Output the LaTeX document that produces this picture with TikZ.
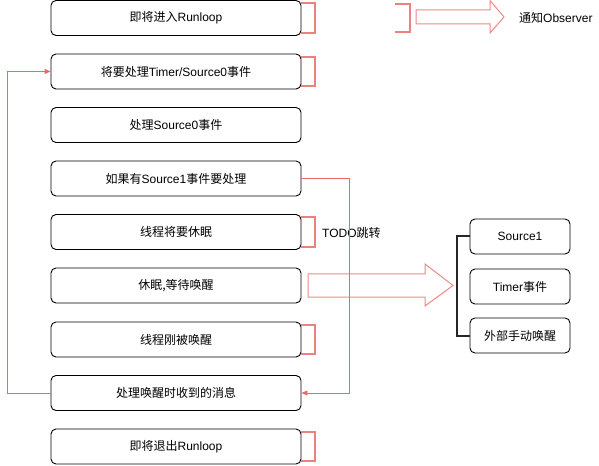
\documentclass[tikz,border=0pt]{standalone}
\usepackage{fontspec}
\setmainfont{Liberation Sans}
\newfontfamily\cjk{Noto Sans CJK SC}
\usetikzlibrary{arrows.meta}
\definecolor{redline}{HTML}{EA6B66}
\begin{document}
\begin{tikzpicture}[x=1bp,y=-1bp,
  box/.style={draw=black,line width=0.9bp,rounded corners=5bp,minimum width=250bp,minimum height=35bp,inner sep=0pt,font=\fontsize{12bp}{14bp}\selectfont},
  sbox/.style={box,minimum width=100bp},
  brk/.style={draw=redline,line width=2bp,draw opacity=0.85},
  hollow/.style={draw=redline,line width=1bp,draw opacity=0.8,line join=miter},
  conn/.style={draw=redline,line width=1bp},
  lbl/.style={font=\fontsize{12bp}{14bp}\selectfont,inner sep=0pt}]
\useasboundingbox (0,0) rectangle (599,466);
% main boxes
\node[box] (b1) at (176,18) {{\cjk 即将进入}Runloop};
\node[box] (b2) at (176,71.5) {{\cjk 将要处理}Timer/Source0{\cjk 事件}};
\node[box] (b3) at (176,125) {{\cjk 处理}Source0{\cjk 事件}};
\node[box] (b4) at (176,178.5) {{\cjk 如果有}Source1{\cjk 事件要处理}};
\node[box] (b5) at (176,232) {{\cjk 线程将要休眠}};
\node[box] (b6) at (176,285.5) {{\cjk 休眠}{\cjk ,等待唤醒}};
\node[box] (b7) at (176,339.5) {{\cjk 线程刚被唤醒}};
\node[box] (b8) at (176,393) {{\cjk 处理唤醒时收到的消息}};
\node[box] (b9) at (176,446.5) {{\cjk 即将退出}Runloop};
% right boxes
\node[sbox] (r1) at (520,236.5) {Source1};
\node[sbox] (r2) at (520,286.5) {Timer{\cjk 事件}};
\node[sbox] (r3) at (520,335.5) {{\cjk 外部手动唤醒}};
% labels
\node[lbl,anchor=west] (obs) at (519,18) {{\cjk 通知}Observer};
\node[lbl,anchor=west] (todo) at (322,233) {TODO{\cjk 跳转}};
% red brackets
\foreach \b in {b1,b2,b5,b7,b9}{
  \draw[brk] ([yshift=-3bp]\b.north east) -- ++(14,0) |- ([yshift=3bp]\b.south east);
}
\coordinate (k1) at (395,4);
\coordinate (k2) at (395,32);
\draw[brk] (k1) -- ++(15,0) |- (k2);
% black bracket for right boxes
\draw[draw=black!85,line width=2bp] (r1.west) -- ++(-13,0) |- (r3.west);
% hollow arrows
\draw[hollow] (416,10) -- (490,10) -- (490,0.5) -- (504,17) -- (490,33) -- (490,24) -- (416,24) -- cycle;
\draw[hollow] (308,274) -- (425,274) -- (425,264) -- (453,285.5) -- (425,306) -- (425,297) -- (308,297) -- cycle;
% connectors
\coordinate (jr) at (349,0);
\draw[conn,-{Triangle[length=6bp,width=5bp]}] (b4.east) -- (b4.east -| jr) |- (b8.east);
\coordinate (jl) at (7.5,0);
\draw[conn,-{Triangle[length=6bp,width=5bp]}] (b8.west) -- (b8.west -| jl) |- (b2.west);
\end{tikzpicture}
\end{document}
